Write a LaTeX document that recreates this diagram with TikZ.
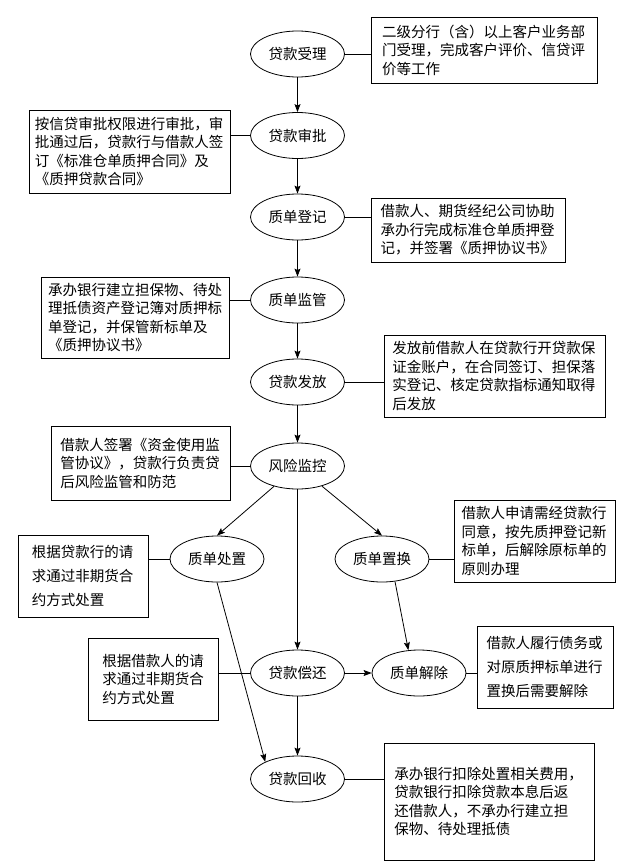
\documentclass[tikz,border=0pt]{standalone}
\usepackage{fontspec}
\usepackage{tikz}
\usetikzlibrary{arrows.meta,shapes.geometric}
\newfontfamily\cjk{Noto Sans CJK SC}

\begin{document}
\begin{tikzpicture}[x=1pt, y=-1pt,
    stage/.style={draw, ellipse, line width=0.8pt, minimum width=94pt, minimum height=46pt,
        inner sep=0pt, font=\cjk\fontsize{14.5}{17}\selectfont},
    note/.style={draw, rectangle, line width=0.8pt, inner sep=0pt, align=left,
        font=\cjk\fontsize{14.5}{18.5}\selectfont},
    wide/.style={font=\cjk\fontsize{14.5}{24}\selectfont},
    flow/.style={line width=0.8pt, -{Stealth[length=8pt, width=6pt, inset=1.5pt]}},
    link/.style={line width=0.8pt}]
    \useasboundingbox (0,0) rectangle (633,867);

    % Stages
    \node[stage] (shouli)    at (297.5,54)  {贷款受理};
    \node[stage] (shenpi)    at (297.5,135.5) {贷款审批};
    \node[stage] (dengji)    at (297.5,217) {质单登记};
    \node[stage] (jianguan)  at (297.5,300) {质单监管};
    \node[stage] (fafang)    at (297.5,382) {贷款发放};
    \node[stage] (fengxian)  at (297.5,466) {风险监控};
    \node[stage] (chuzhi)    at (217,559)   {质单处置};
    \node[stage] (zhihuan)   at (382,559)   {质单置换};
    \node[stage] (changhuan) at (297.5,673) {贷款偿还};
    \node[stage] (jiechu)    at (419,673)   {质单解除};
    \node[stage] (huishou)   at (297.5,779) {贷款回收};

    % Notes
    \node[note, minimum width=226pt, minimum height=66pt, text width=204pt] (shouliNote) at (484,50)
        {二级分行（含）以上客户业务部\\门受理，完成客户评价、信贷评\\价等工作};
    \node[note, minimum width=201pt, minimum height=83pt, text width=189.5pt] (shenpiNote) at (129.5,151.5)
        {按信贷审批权限进行审批，审\\批通过后，贷款行与借款人签\\订《标准仓单质押合同》及\\《质押贷款合同》};
    \node[note, minimum width=194pt, minimum height=64pt, text width=175pt] (dengjiNote) at (468,230)
        {借款人、期货经纪公司协助\\承办行完成标准仓单质押登\\记，并签署《质押协议书》};
    \node[note, minimum width=188pt, minimum height=81pt, text width=175pt] (jianguanNote) at (135.7,317.5)
        {承办银行建立担保物、待处\\理抵债资产登记簿对质押标\\单登记，并保管新标单及\\《质押协议书》};
    \node[note, minimum width=221pt, minimum height=82pt, text width=204pt] (fafangNote) at (494.4,376)
        {发放前借款人在贷款行开贷款保\\证金账户，在合同签订、担保落\\实登记、核定贷款指标通知取得\\后发放};
    \node[note, minimum width=179pt, minimum height=74pt, text width=160.5pt] (fengxianNote) at (140.5,463)
        {借款人签署《资金使用监\\管协议》，贷款行负责贷\\后风险监管和防范};
    \node[note, wide, minimum width=130pt, minimum height=82pt, text width=102.5pt] (chuzhiNote) at (83,576)
        {根据贷款行的请\\求通过非期货合\\约方式处置};
    \node[note, minimum width=161pt, minimum height=82pt, text width=146pt] (zhihuanNote) at (534.5,541)
        {借款人申请需经贷款行\\同意，按先质押登记新\\标单，后解除原标单的\\原则办理};
    \node[note, minimum width=130pt, minimum height=82pt, text width=102.5pt] (changhuanNote) at (153.7,679)
        {根据借款人的请\\求通过非期货合\\约方式处置};
    \node[note, wide, minimum width=136pt, minimum height=82pt, text width=117pt] (jiechuNote) at (545,667)
        {借款人履行债务或\\对原质押标单进行\\置换后需要解除};
    \node[note, minimum width=210pt, minimum height=117pt, text width=189.5pt] (huishouNote) at (489,801.5)
        {承办银行扣除处置相关费用，\\贷款银行扣除贷款本息后返\\还借款人，不承办行建立担\\保物、待处理抵债};

    % Main flow
    \draw[flow] (shouli) -- (shenpi);
    \draw[flow] (shenpi) -- (dengji);
    \draw[flow] (dengji) -- (jianguan);
    \draw[flow] (jianguan) -- (fafang);
    \draw[flow] (fafang) -- (fengxian);
    \draw[flow] (fengxian) -- (chuzhi.north);
    \draw[flow] (fengxian) -- (zhihuan.north);
    \draw[flow] (fengxian) -- (changhuan);
    \draw[flow] (zhihuan.-60) -- (jiechu.115);
    \draw[flow] (changhuan) -- (jiechu);
    \draw[flow] (changhuan) -- (huishou);
    \draw[flow] (chuzhi.south) -- (huishou.152);

    % Links to notes
    \draw[link] (shouli.east) -- (shouli.east -| shouliNote.west);
    \draw[link] (shenpi.west) -- (shenpi.west -| shenpiNote.east);
    \draw[link] (dengji.east) -- (dengji.east -| dengjiNote.west);
    \draw[link] (jianguan.west) -- (jianguan.west -| jianguanNote.east);
    \draw[link] (fafang.east) -- (fafang.east -| fafangNote.west);
    \draw[link] (fengxian.west) -- (fengxian.west -| fengxianNote.east);
    \draw[link] (chuzhi.west) -- (chuzhi.west -| chuzhiNote.east);
    \draw[link] (zhihuan.east) -- (zhihuan.east -| zhihuanNote.west);
    \draw[link] (changhuan.west) -- (changhuan.west -| changhuanNote.east);
    \draw[link] (jiechu.east) -- (jiechu.east -| jiechuNote.west);
    \draw[link] (huishou.east) -- (huishou.east -| huishouNote.west);
\end{tikzpicture}
\end{document}
